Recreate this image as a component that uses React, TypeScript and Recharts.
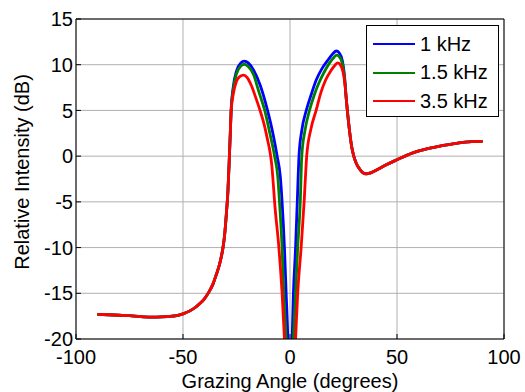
import React from 'react';
import { LineChart, Line, XAxis, YAxis, CartesianGrid, Legend, Label } from 'recharts';

// Grazing angle (deg) -> relative intensity (dB)
const leftTailAngles = [-90, -85, -80, -75, -70, -65, -60, -55, -52, -50, -47, -44, -42, -40, -38, -36, -34.5, -33, -32, -31.3, -30.5, -29.8, -29, -28.4, -27.9, -27.5];
const leftTailValues = [-17.3, -17.35, -17.4, -17.45, -17.55, -17.6, -17.58, -17.5, -17.4, -17.25, -16.95, -16.5, -16.1, -15.6, -14.9, -14.0, -13.0, -11.9, -10.9, -10.0, -8.5, -6.5, -3.8, -0.5, 2.5, 5.0];

const rightTailAngles = [27.8, 29, 29.8, 31, 32.5, 34, 35.6, 38, 41.8, 45, 50, 57.4, 63, 70, 75, 79, 85, 90];
const rightTailValues = [2.8, 0.8, 0, -0.8, -1.4, -1.8, -1.95, -1.8, -1.35, -0.95, -0.4, 0.36, 0.75, 1.1, 1.3, 1.45, 1.58, 1.62];

const blueAngles = [-26.5, -25, -23, -21.3, -19.5, -17, -14, -10.5, -8, -6, -4.5, -3.7, -2.6, -1.8, -1.0, 0, 1.0, 1.6, 2.6, 3.4, 4.2, 5.5, 7.6, 10, 12.2, 15, 18, 20, 21.6, 23, 24.5, 25.5, 26.2];
const blueValues = [7.6, 9.3, 10.2, 10.4, 10.2, 9.4, 7.8, 5.0, 2.5, 0, -2.3, -5, -10, -15, -20, -32, -20, -15, -10, -5, 0, 2.8, 5, 6.8, 8.3, 9.6, 10.6, 11.2, 11.5, 11.3, 10.4, 8.7, 6.5];

const greenAngles = [-26.5, -25, -23, -21.3, -19.5, -17, -14.5, -11.8, -9.5, -7.2, -5.7, -4.9, -3.7, -2.9, -1.8, 0, 1.6, 2.6, 3.6, 4.8, 5.5, 7, 9.1, 11.5, 13.5, 16, 18.5, 20.5, 21.8, 23, 24.5, 25.5, 26.2];
const greenValues = [7.3, 9.0, 9.85, 10.05, 9.8, 8.9, 7.0, 5.0, 2.6, 0, -2.3, -5, -10, -15, -20, -32, -20, -15, -10, -5, 0, 2.8, 5, 6.8, 8.0, 9.2, 10.2, 10.8, 11.05, 10.9, 10.1, 8.5, 6.5];

const redAngles = [-26.5, -25, -23.5, -21.7, -20, -18, -16, -14, -12, -10.5, -9.3, -8.5, -7.6, -7.2, -5.2, -3.7, -2.6, 0, 2.6, 3.6, 5.2, 6.6, 7.8, 9.8, 12.2, 14.5, 16.6, 19, 21, 22.3, 23.5, 24.8, 25.7, 26.4];
const redValues = [6.8, 8.2, 8.7, 8.86, 8.6, 7.7, 6.4, 5.0, 3.4, 1.8, 0.4, -1.0, -3.7, -5, -10, -15, -20, -32, -20, -15, -10, -5, 0, 3, 5, 7, 8.3, 9.3, 9.95, 10.2, 10.0, 9.2, 7.8, 6.0];

const xTicks = [-100, -50, 0, 50, 100];
const yTicks = [-20, -15, -10, -5, 0, 5, 10, 15];

const build = (angles: number[], values: number[]) => {
  const a = [...leftTailAngles, ...angles, ...rightTailAngles];
  const v = [...leftTailValues, ...values, ...rightTailValues];
  return a.map((x, i) => ({ x, y: v[i] }));
};

const series = [
  { name: '1 kHz', color: '#0000ff', data: build(blueAngles, blueValues) },
  { name: '1.5 kHz', color: '#008000', data: build(greenAngles, greenValues) },
  { name: '3.5 kHz', color: '#ff0000', data: build(redAngles, redValues) },
];

const font = '"Liberation Sans", Arial, Helvetica, sans-serif';
const tickStyle = { fontSize: 20, fill: '#000', fontFamily: font };

const LegendBox = (props: any) => (
  <div style={{ border: '1px solid #000', background: '#fff', padding: '4px 0 0 6px', width: 133, boxSizing: 'border-box', fontFamily: font, fontSize: 20, color: '#000' }}>
    {(props.payload || []).map((p: any) => (
      <div key={p.value} style={{ display: 'flex', alignItems: 'center', height: 28.5 }}>
        <span style={{ width: 42, height: 0, borderTop: `2.5px solid ${p.color}`, marginRight: 5 }} />
        <span>{p.value}</span>
      </div>
    ))}
  </div>
);

const YLabel = (props: any) => {
  const vb = props.viewBox || { x: 0, y: 0, height: 0 };
  const cx = vb.x + 22;
  const cy = vb.y + vb.height / 2 - 7;
  return (
    <text x={cx} y={cy} transform={`rotate(-90 ${cx} ${cy})`} textAnchor="middle" dominantBaseline="central" fontSize={20} fontFamily={font} fill="#000">
      Relative Intensity (dB)
    </text>
  );
};

export default function App() {
  return (
    <div style={{ position: 'absolute', left: 0, top: 0, background: '#fff' }}>
      <LineChart width={525} height={392} margin={{ top: 18, right: 20, bottom: 0, left: 0 }}>
        <CartesianGrid xAxisId="bottom" yAxisId="left" stroke="#b0b0b0" strokeWidth={1} />
        <XAxis xAxisId="bottom" type="number" dataKey="x" domain={[-100, 100]} ticks={xTicks} allowDataOverflow
          height={53} tickSize={-5} tickMargin={16} tick={tickStyle} stroke="#000" interval={0}>
          <Label value="Grazing Angle (degrees)" position="insideBottom" offset={4} style={{ fontSize: 20, fontFamily: font, fill: '#000' }} />
        </XAxis>
        <XAxis xAxisId="top" orientation="top" type="number" dataKey="x" domain={[-100, 100]} ticks={xTicks} allowDataOverflow
          height={1} tickSize={-5} tick={false} stroke="#000" />
        <YAxis yAxisId="left" type="number" domain={[-20, 15]} ticks={yTicks} allowDataOverflow
          width={76} tickSize={-5} tickMargin={8} tick={tickStyle} stroke="#000" interval={0} label={<Label content={YLabel} />} />
        <YAxis yAxisId="right" orientation="right" type="number" domain={[-20, 15]} ticks={yTicks} allowDataOverflow
          width={1} tickSize={-5} tick={false} stroke="#000" />
        <Legend layout="vertical" align="center" verticalAlign="middle" content={<LegendBox />}
          wrapperStyle={{ top: 25, left: 366, width: 133, height: 'auto' }} />
        {series.map((s) => (
          <Line key={s.name} xAxisId="bottom" yAxisId="left" data={s.data} dataKey="y" name={s.name} type="monotone"
            stroke={s.color} strokeWidth={2.8} dot={false} activeDot={false} isAnimationActive={false} />
        ))}
      </LineChart>
    </div>
  );
}
